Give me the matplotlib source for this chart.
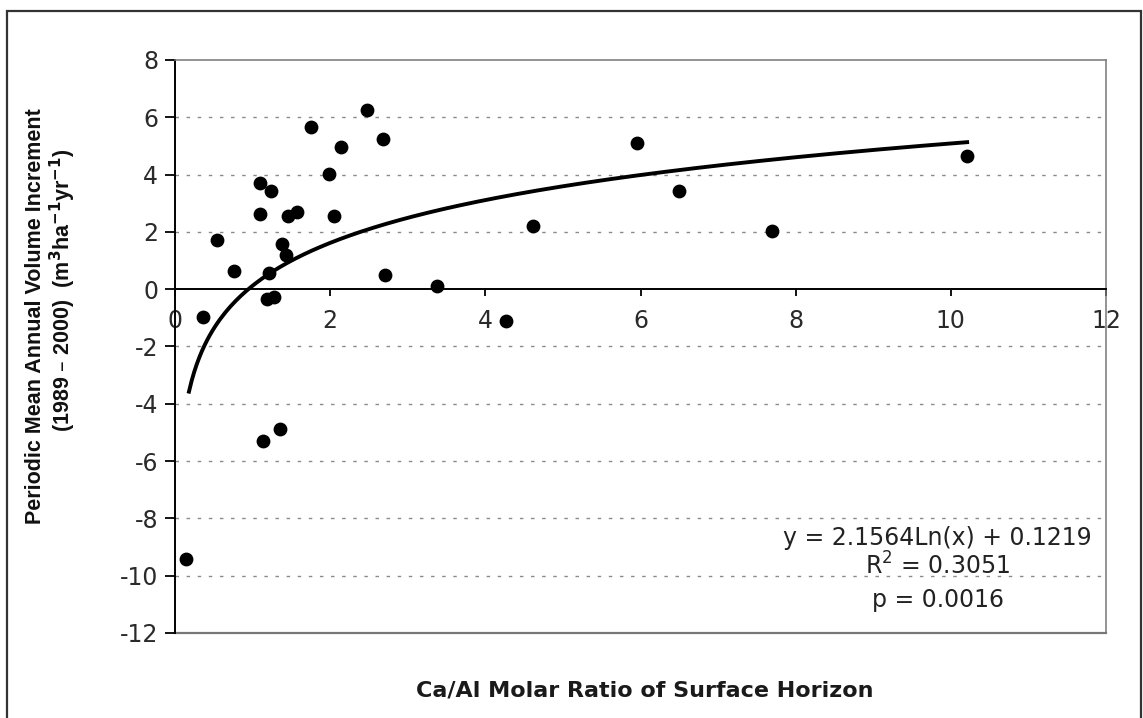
import numpy as np
import matplotlib
matplotlib.use('Agg')
import matplotlib.pyplot as plt
from matplotlib.patches import Rectangle

# Ca/Al molar ratio vs periodic mean annual volume increment
ca_al = [0.14, 0.36, 0.54, 0.76, 1.09, 1.09, 1.13, 1.18, 1.21, 1.24,
         1.28, 1.35, 1.38, 1.43, 1.46, 1.57, 1.75, 1.98, 2.05, 2.14,
         2.48, 2.68, 2.71, 3.38, 4.26, 4.62, 5.95, 6.49, 7.70, 10.21]
increment = [-9.42, -0.96, 1.73, 0.64, 3.72, 2.62, -5.29, -0.35, 0.58, 3.42,
             -0.27, -4.88, 1.58, 1.20, 2.55, 2.71, 5.66, 4.03, 2.55, 4.95,
             6.27, 5.26, 0.50, 0.12, -1.11, 2.20, 5.11, 3.42, 2.02, 4.66]

# log trendline y = a*ln(x) + b
fit_a, fit_b = 2.1564, 0.1219
fit_r2 = 0.3051
fit_p = 0.0016
fit_start = 0.18

x_ticks = [0, 2, 4, 6, 8, 10, 12]
y_ticks = [-12, -10, -8, -6, -4, -2, 0, 2, 4, 6, 8]

W, H = 1143, 718
fig = plt.figure(figsize=(W / 100, H / 100), dpi=100)
ax = fig.add_axes([175 / W, 1 - 633 / H, (1106 - 175) / W, (633 - 60) / H])

ax.set_xlim(0, 12)
ax.set_ylim(-12, 8)
ax.set_xticks(x_ticks)
ax.set_yticks(y_ticks)
ax.set_xticklabels([str(v) for v in x_ticks])
ax.set_yticklabels([str(v) for v in y_ticks])

for yv in y_ticks:
    if yv in (-12, 0, 8):
        continue
    ax.axhline(yv, color='#8a8a8a', lw=1.0, ls=(0, (2.5, 5.5)), zorder=0)

ax.spines['bottom'].set_position(('data', 0))
for s in ('bottom', 'left'):
    ax.spines[s].set_color('black')
    ax.spines[s].set_linewidth(1.4)
for s in ('top', 'right'):
    ax.spines[s].set_color('#777777')
    ax.spines[s].set_linewidth(1.1)
ax.axhline(-12, color='#777777', lw=1.6, clip_on=False, zorder=1)

ax.tick_params(direction='out', width=1.3, labelsize=17,
               labelcolor='#2a2a2a', color='black')
ax.tick_params(axis='x', length=5, pad=9)
ax.tick_params(axis='y', length=7, pad=5)

fx = np.linspace(fit_start, max(ca_al), 300)
fy = fit_a * np.log(fx) + fit_b
ax.plot(fx, fy, color='black', lw=2.8, zorder=2)
ax.scatter(ca_al, increment, s=80, color='black', zorder=3)

ax.text(9.83, -8.68, f'y = {fit_a}Ln(x) + {fit_b}', ha='center', va='center',
        fontsize=17, color='#222222')
ax.text(9.83, -9.66, f'R$^2$ = {fit_r2}', ha='center', va='center',
        fontsize=17, color='#222222')
ax.text(9.83, -10.85, f'p = {fit_p}', ha='center', va='center',
        fontsize=17, color='#222222')

fig.text(645 / W, 1 - 690 / H, 'Ca/Al Molar Ratio of Surface Horizon',
         ha='center', va='center', fontsize=16, fontweight='bold',
         color='#1a1a1a')
fig.text(36 / W, 1 - 316 / H, 'Periodic Mean Annual Volume Increment',
         ha='center', va='center', rotation=90, fontsize=15.5,
         fontweight='bold', family='Liberation Sans', color='#111111')
fig.text(63 / W, 1 - 290 / H,
         '(1989 – 2000)  (m$^{\\mathbf{3}}$ha$^{\\mathbf{-1}}$yr$^{\\mathbf{-1}}$)',
         ha='center', va='center', rotation=90, fontsize=15.5,
         fontweight='bold', family='Liberation Sans', color='#111111')

# outer frame
fig.add_artist(Rectangle((7 / W, -0.05), (1141 - 7) / W, 1 - 11 / H + 0.05,
                         transform=fig.transFigure, fill=False,
                         edgecolor='#333333', lw=1.6))

fig.savefig('out.png', dpi=100)
